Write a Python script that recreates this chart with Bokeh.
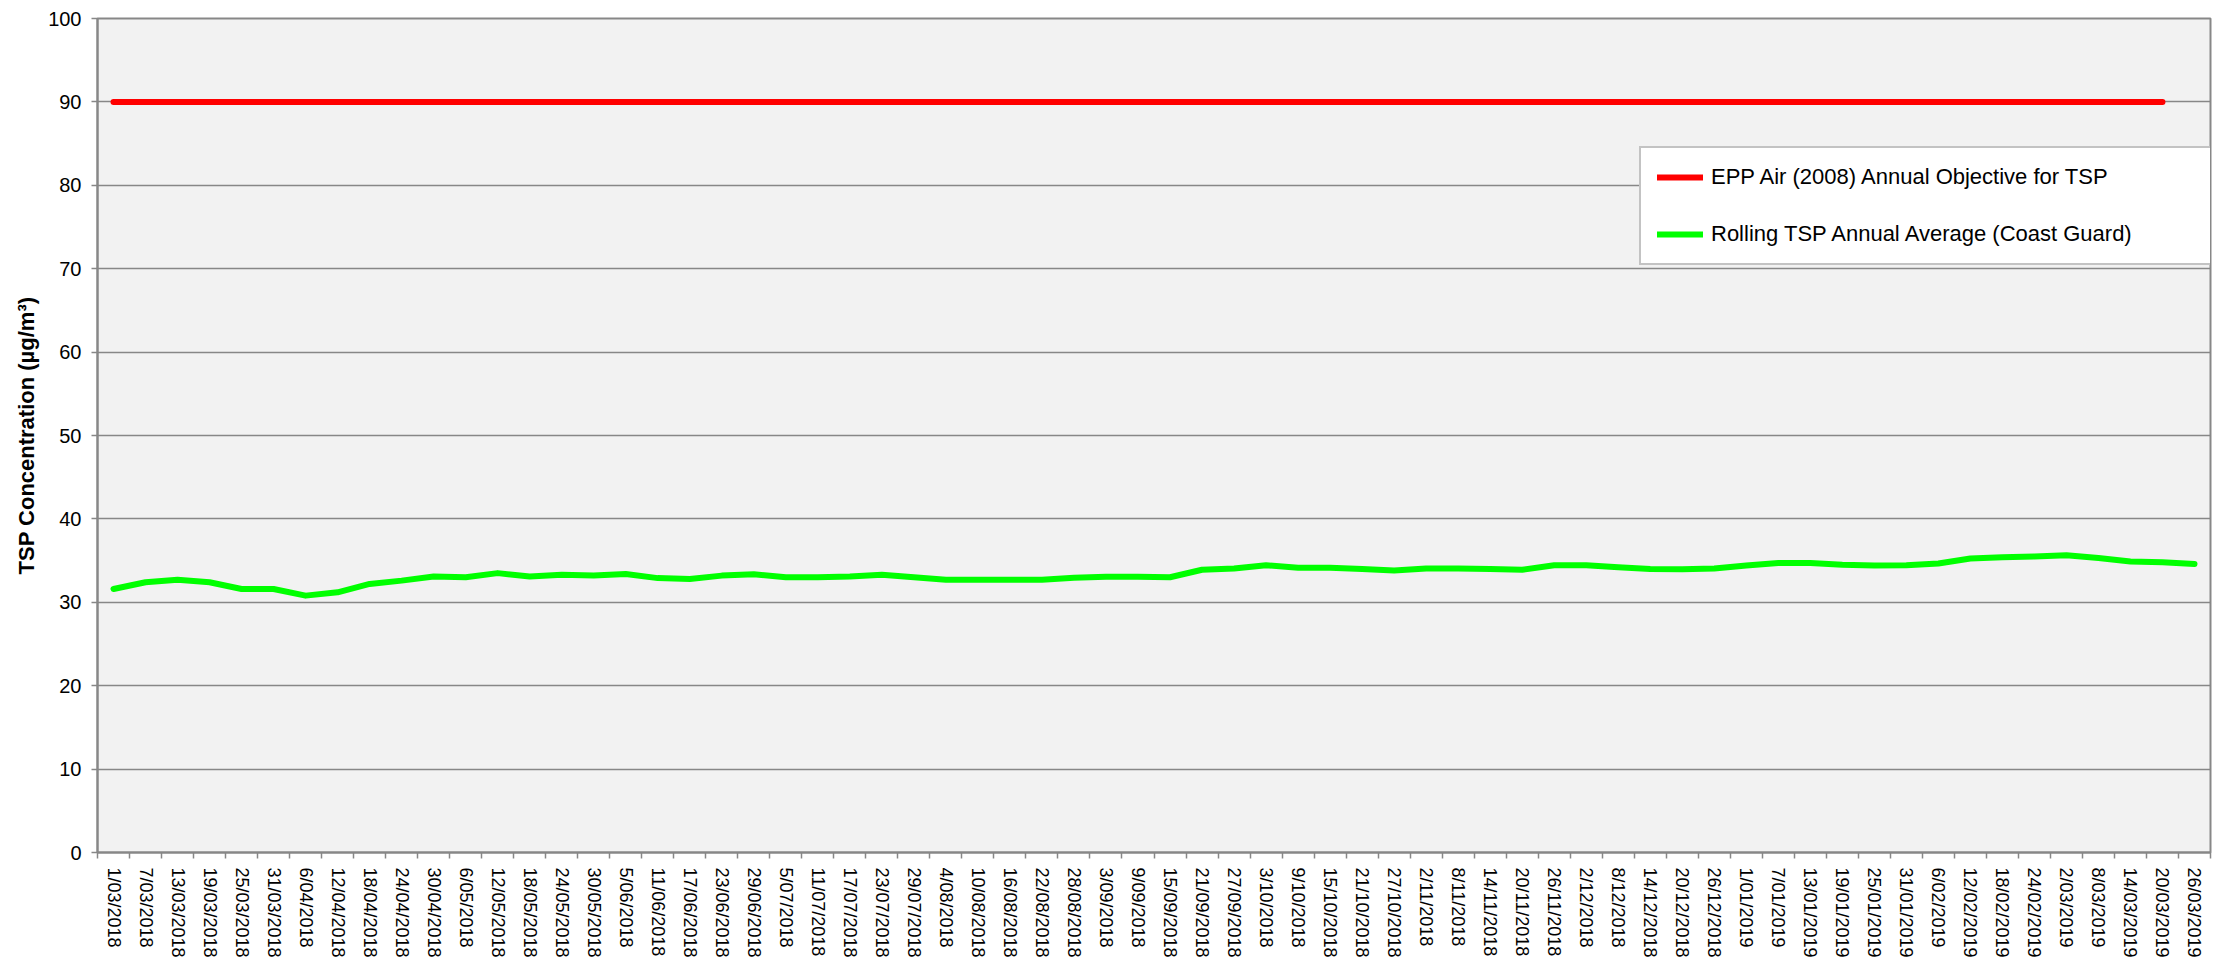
import math
from bokeh.plotting import figure
from bokeh.models import (Range1d, FixedTicker, SingleIntervalTicker, CustomJSTickFormatter,
                          Legend, LegendItem, ColumnDataSource)
from bokeh.embed import file_html
from bokeh.resources import INLINE

dates = ["1/03/2018", "7/03/2018", "13/03/2018", "19/03/2018", "25/03/2018", "31/03/2018",
         "6/04/2018", "12/04/2018", "18/04/2018", "24/04/2018", "30/04/2018", "6/05/2018",
         "12/05/2018", "18/05/2018", "24/05/2018", "30/05/2018", "5/06/2018", "11/06/2018",
         "17/06/2018", "23/06/2018", "29/06/2018", "5/07/2018", "11/07/2018", "17/07/2018",
         "23/07/2018", "29/07/2018", "4/08/2018", "10/08/2018", "16/08/2018", "22/08/2018",
         "28/08/2018", "3/09/2018", "9/09/2018", "15/09/2018", "21/09/2018", "27/09/2018",
         "3/10/2018", "9/10/2018", "15/10/2018", "21/10/2018", "27/10/2018", "2/11/2018",
         "8/11/2018", "14/11/2018", "20/11/2018", "26/11/2018", "2/12/2018", "8/12/2018",
         "14/12/2018", "20/12/2018", "26/12/2018", "1/01/2019", "7/01/2019", "13/01/2019",
         "19/01/2019", "25/01/2019", "31/01/2019", "6/02/2019", "12/02/2019", "18/02/2019",
         "24/02/2019", "2/03/2019", "8/03/2019", "14/03/2019", "20/03/2019", "26/03/2019"]

rolling_tsp = [31.6, 32.4, 32.7, 32.4, 31.6, 31.6, 30.8, 31.2, 32.2, 32.6, 33.1, 33.0, 33.5,
               33.1, 33.3, 33.2, 33.4, 32.9, 32.8, 33.2, 33.35, 33.0, 33.0, 33.1, 33.3, 33.0,
               32.7, 32.7, 32.7, 32.7, 32.95,
               33.05, 33.05, 33.0, 33.9, 34.05, 34.45, 34.15, 34.15, 34.0, 33.8, 34.05, 34.05,
               34.0, 33.9, 34.45, 34.45, 34.2, 34.0,
               33.95, 34.05, 34.4, 34.7, 34.7, 34.5, 34.4, 34.45, 34.65, 35.25, 35.4, 35.5,
               35.65, 35.3, 34.9, 34.8, 34.6]

objective = [90] * 65  # objective line shown through 20/03/2019

x_all = [i + 0.5 for i in range(len(dates))]

GRAY = "#878787"
FONT = "Liberation Sans"

p = figure(width=2223, height=960, output_backend="svg", toolbar_location=None,
           x_range=Range1d(0, len(dates)), y_range=Range1d(0, 100),
           min_border_left=97, min_border_right=13, min_border_top=18, min_border_bottom=100)

p.background_fill_color = "#F2F2F2"
p.border_fill_color = "white"
p.outline_line_color = GRAY
p.outline_line_width = 2

src_obj = ColumnDataSource(dict(x=x_all[:len(objective)], y=objective))
src_roll = ColumnDataSource(dict(x=x_all, y=rolling_tsp))

r_obj = p.line("x", "y", source=src_obj, line_color="#FF0000", line_width=6, line_cap="round")
r_roll = p.line("x", "y", source=src_roll, line_color="#00FF00", line_width=6,
                line_cap="round", line_join="round")

# X axis: labels at category centres, tick marks at category boundaries
xa = p.xaxis[0]
xa.ticker = FixedTicker(ticks=x_all, minor_ticks=list(range(len(dates) + 1)))
xa.formatter = CustomJSTickFormatter(args=dict(labels=dates),
                                     code="return labels[Math.floor(tick)] || '';")
xa.major_label_orientation = -math.pi / 2
xa.major_tick_out = 0
xa.major_tick_in = 0
xa.minor_tick_out = 6
xa.minor_tick_in = 0
xa.minor_tick_line_color = GRAY
xa.minor_tick_line_width = 1.5
xa.axis_line_color = GRAY
xa.axis_line_width = 2
xa.major_label_text_font = FONT
xa.major_label_text_font_size = "18px"
xa.major_label_text_color = "black"
xa.major_label_standoff = 9
p.xgrid.visible = False

ya = p.yaxis[0]
ya.ticker = SingleIntervalTicker(interval=10, num_minor_ticks=0)
ya.axis_label = "TSP Concentration (µg/m³)"
ya.axis_label_text_font = FONT
ya.axis_label_text_font_style = "bold"
ya.axis_label_text_font_size = "22px"
ya.axis_label_text_color = "black"
ya.axis_label_standoff = 6
ya.major_label_text_font = FONT
ya.major_label_text_font_size = "20px"
ya.major_label_text_color = "black"
ya.major_label_standoff = 10
ya.major_tick_out = 6
ya.major_tick_in = 0
ya.minor_tick_out = 0
ya.minor_tick_in = 0
ya.major_tick_line_color = GRAY
ya.major_tick_line_width = 1.5
ya.axis_line_color = GRAY
ya.axis_line_width = 2
p.ygrid.grid_line_color = GRAY
p.ygrid.grid_line_width = 1.5

legend = Legend(items=[LegendItem(label="EPP Air (2008) Annual Objective for TSP", renderers=[r_obj]),
                       LegendItem(label="Rolling TSP Annual Average (Coast Guard)", renderers=[r_roll])],
                location=(1542, 587), margin=0, padding=16, spacing=31,
                glyph_width=46, glyph_height=20, label_height=20, label_standoff=8, label_width=485,
                label_text_font=FONT, label_text_font_size="22px", label_text_color="black",
                background_fill_color="white", background_fill_alpha=1.0,
                border_line_color=GRAY, border_line_width=2)
p.add_layout(legend)

open("out.html", "w").write(file_html(p, INLINE))
